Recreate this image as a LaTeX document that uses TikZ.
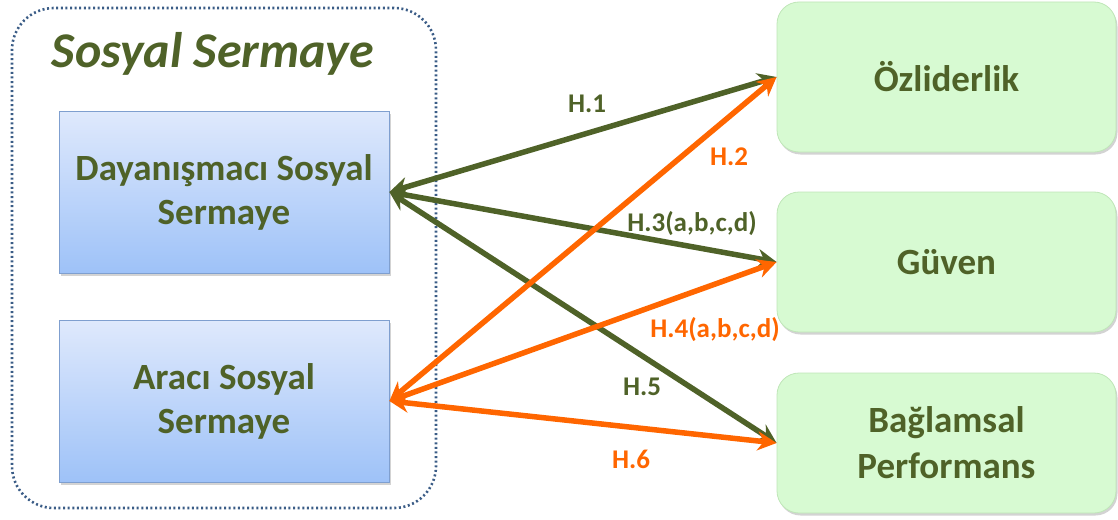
\documentclass[tikz,border=0pt]{standalone}
\usepackage{fontspec}
\setmainfont{Carlito}
\usetikzlibrary{arrows.meta,shadows}
\definecolor{olive}{HTML}{4F6228}
\definecolor{orng}{HTML}{FF6600}
\definecolor{framec}{HTML}{3A5C86}
\definecolor{bluetop}{HTML}{DFE9FC}
\definecolor{bluebot}{HTML}{9EC2F8}
\definecolor{blueedge}{HTML}{7F9FCF}
\definecolor{greenfill}{HTML}{D7FAD2}
\definecolor{greenedge}{HTML}{BFE6B8}
\tikzset{
  capbox/.style={rectangle, minimum width=330pt, minimum height=162pt,
    top color=bluetop, bottom color=bluebot, draw=blueedge, line width=0.8pt,
    drop shadow={shadow xshift=1.5pt, shadow yshift=-2.5pt, opacity=0.35},
    align=center, font=\fontsize{37}{44}\selectfont\bfseries, text=olive},
  outbox/.style={rectangle, rounded corners=22pt, minimum width=339pt,
    fill=greenfill, draw=greenedge, line width=0.8pt,
    drop shadow={shadow xshift=1.5pt, shadow yshift=-2.5pt, opacity=0.35},
    align=center, font=\fontsize{37}{46}\selectfont\bfseries, text=olive},
  hyp/.style={font=\fontsize{27}{30}\selectfont\bfseries, inner sep=0pt},
  link/.style={line width=5.5pt, {Stealth[length=19pt,width=19pt]}-{Stealth[length=19pt,width=19pt]}},
}
\begin{document}
\begin{tikzpicture}[x=1pt,y=-1pt]
\useasboundingbox (0,0) rectangle (1118,519);
% dotted group frame
\node[draw=framec, dash pattern=on 2pt off 2.6pt, line width=2.6pt,
      rounded corners=42pt, minimum width=424pt, minimum height=500pt,
      inner sep=0pt] (group) at (224,258) {};
\node[font=\fontsize{50}{56}\selectfont\bfseries\itshape, text=olive] (title) at (213,54) {Sosyal Sermaye};
% left boxes
\node[capbox] (D) at (224,192) {Dayanışmacı Sosyal\\Sermaye};
\node[capbox] (A) at (224,401) {Aracı Sosyal\\Sermaye};
% right boxes
\node[outbox, minimum height=150pt] (O) at (946.5,77) {Özliderlik};
\node[outbox, minimum height=140pt] (G) at (946.5,262) {Güven};
\node[outbox, minimum height=140pt] (B) at (946.5,443) {Bağlamsal\\Performans};
% hypotheses
\draw[link, olive] (D.east) -- (O.west);
\draw[link, olive] (D.east) -- (G.west);
\draw[link, olive] (D.east) -- (B.west);
\draw[link, orng] (A.east) -- (O.west);
\draw[link, orng] (A.east) -- (G.west);
\draw[link, orng] (A.east) -- (B.west);
\node[hyp, text=olive] (h1) at (587,104) {H.1};
\node[hyp, text=orng] (h2) at (729,157) {H.2};
\node[hyp, text=olive] (h3) at (692,224) {H.3(a,b,c,d)};
\node[hyp, text=orng] (h4) at (715,330) {H.4(a,b,c,d)};
\node[hyp, text=olive] (h5) at (642,387) {H.5};
\node[hyp, text=orng] (h6) at (631,459) {H.6};
\end{tikzpicture}
\end{document}
